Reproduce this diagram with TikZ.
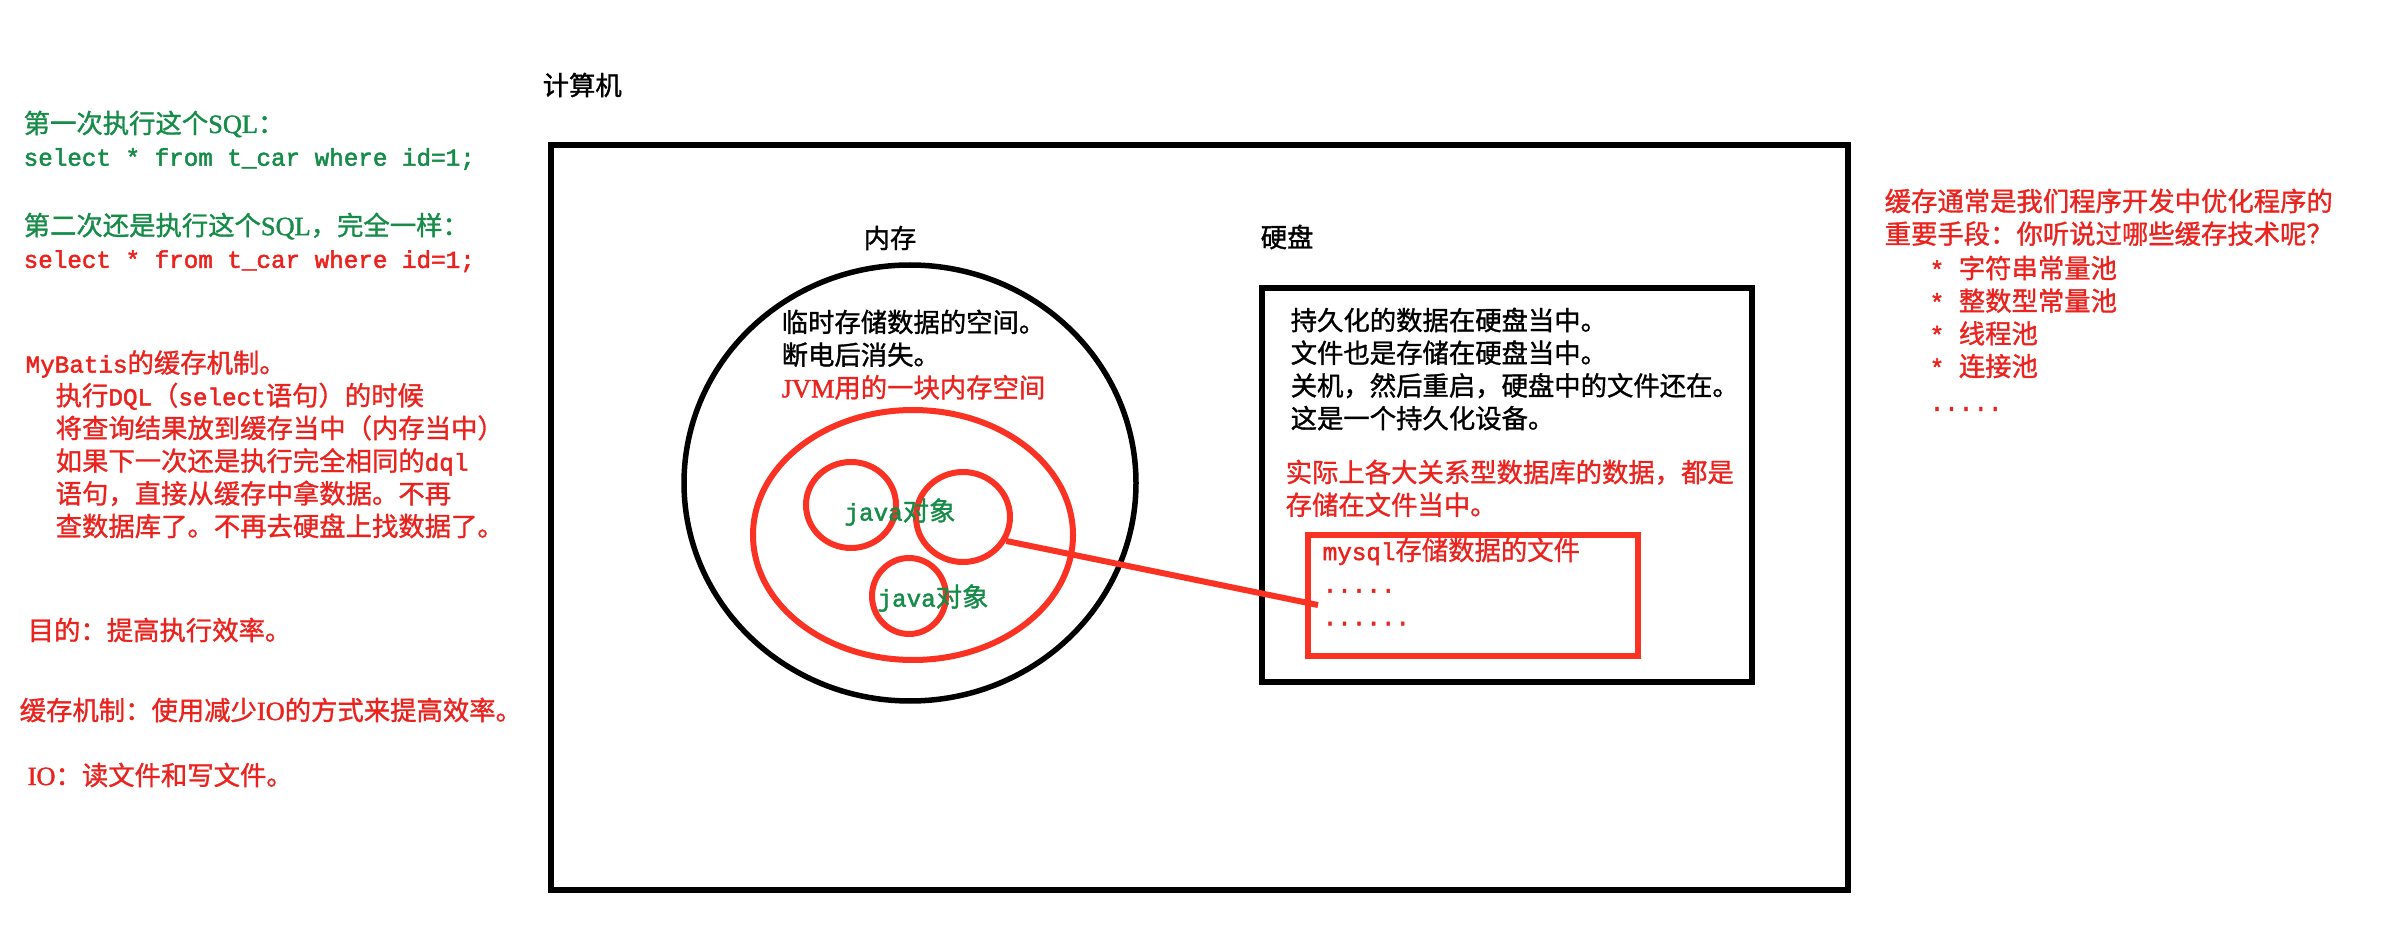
\documentclass[tikz,border=0pt]{standalone}
\usepackage{fontspec}
\setmainfont{Noto Sans CJK SC}[FakeBold=1.2]
\setmonofont{Liberation Mono}[Scale=0.92, FakeBold=2]
\newfontfamily\latinser{Liberation Serif}[FakeBold=1.5]
\usepackage{tikz}
\usetikzlibrary{shapes.geometric, positioning}

\definecolor{txtgreen}{RGB}{22,140,72}
\definecolor{txtred}{RGB}{235,35,30}
\definecolor{penred}{RGB}{250,50,35}

\begin{document}
\begin{tikzpicture}[x=0.1mm, y=-0.1mm,
    every node/.style={inner sep=0pt, font=\fontsize{7.5}{9.3}\selectfont},
    line/.style={anchor=west},
    block/.style={anchor=north west, align=left},
    greentxt/.style={text=txtgreen},
    redtxt/.style={text=txtred},
    redpen/.style={draw=penred, line width=0.6mm},
    blackpen/.style={draw=black, line width=0.55mm}]

  \useasboundingbox (0,0) rectangle (2385,932);

  % SQL run twice
  \node[block, greentxt] (sqlone) at (23,110)
    {第一次执行这个{\latinser SQL}：\\ \texttt{select * from t\_car where id=1;}};
  \node[block, greentxt] (sqltwo) at (23,212)
    {第二次还是执行这个{\latinser SQL}，完全一样：\\ \textcolor{txtred}{\texttt{select * from t\_car where id=1;}}};

  % MyBatis cache notes
  \node[line, redtxt] (cachetitle) at (25,364) {\texttt{MyBatis}的缓存机制。};
  \node[block, redtxt] (cachebody) at (55,382)
    {执行\texttt{DQL}（\texttt{select}语句）的时候\\
     将查询结果放到缓存当中（内存当中）\\
     如果下一次还是执行完全相同的\texttt{dql}\\
     语句，直接从缓存中拿数据。不再\\
     查数据库了。不再去硬盘上找数据了。};

  \node[line, redtxt] (goal) at (27,630) {目的：提高执行效率。};
  \node[line, redtxt] (howto) at (19,710) {缓存机制：使用减少{\latinser IO}的方式来提高效率。};
  \node[line, redtxt] (io) at (27,775) {{\latinser IO}：读文件和写文件。};

  % Computer
  \node[line] (computer) at (542,85) {计算机};
  \draw[line width=0.6mm] (551,145) rectangle (1848,890);

  % Memory
  \node (memlabel) at (890,238) {内存};
  \node[ellipse, blackpen, minimum width=45.2mm, minimum height=43.6mm] (memory) at (910,483) {};
  \node[block] (memtext) at (781,309)
    {临时存储数据的空间。\\ 断电后消失。\\ \textcolor{txtred}{{\latinser JVM}用的一块内存空间}};

  % JVM heap and objects
  \node[ellipse, redpen, minimum width=32mm, minimum height=25mm] (heap) at (913,535) {};
  \node[ellipse, redpen, minimum width=9mm, minimum height=8.6mm] (objone) at (851,505) {};
  \node[ellipse, redpen, minimum width=9.4mm, minimum height=9mm] (objtwo) at (963,517) {};
  \node[ellipse, redpen, minimum width=7.4mm, minimum height=7.6mm] (objthree) at (909,596) {};
  \node[greentxt] (javaone) at (900,512) {\texttt{java}对象};
  \node[greentxt] (javatwo) at (933,598) {\texttt{java}对象};

  % Hard disk
  \node[line] (disklabel) at (1260,237) {硬盘};
  \draw[blackpen] (1262,288) rectangle (1752,682);
  \node[block] (disktext) at (1290,307)
    {持久化的数据在硬盘当中。\\ 文件也是存储在硬盘当中。\\
     关机，然后重启，硬盘中的文件还在。\\ 这是一个持久化设备。};
  \node[block, redtxt] (dbtext) at (1285,459)
    {实际上各大关系型数据库的数据，都是\\ 存储在文件当中。};

  % MySQL data file
  \node[redpen, anchor=north west, minimum width=33mm, minimum height=12.1mm] (filebox) at (1305,532) {};
  \node[block, redtxt] (filetext) at (1322,537)
    {\texttt{mysql}存储数据的文件\\ \texttt{.....}\\ \texttt{......}};
  \coordinate (fileend) at (1318,605);
  \draw[redpen] (objtwo.-29) -- (fileend);

  % Common caches
  \node[block, redtxt] (techs) at (1884,188)
    {缓存通常是我们程序开发中优化程序的\\ 重要手段：你听说过哪些缓存技术呢？};
  \node[block, redtxt] (techlist) at (1929,255)
    {\texttt{*~}字符串常量池\\ \texttt{*~}整数型常量池\\ \texttt{*~}线程池\\ \texttt{*~}连接池};
  \node[line, redtxt] (techmore) at (1929,409) {\texttt{.....}};

\end{tikzpicture}
\end{document}
